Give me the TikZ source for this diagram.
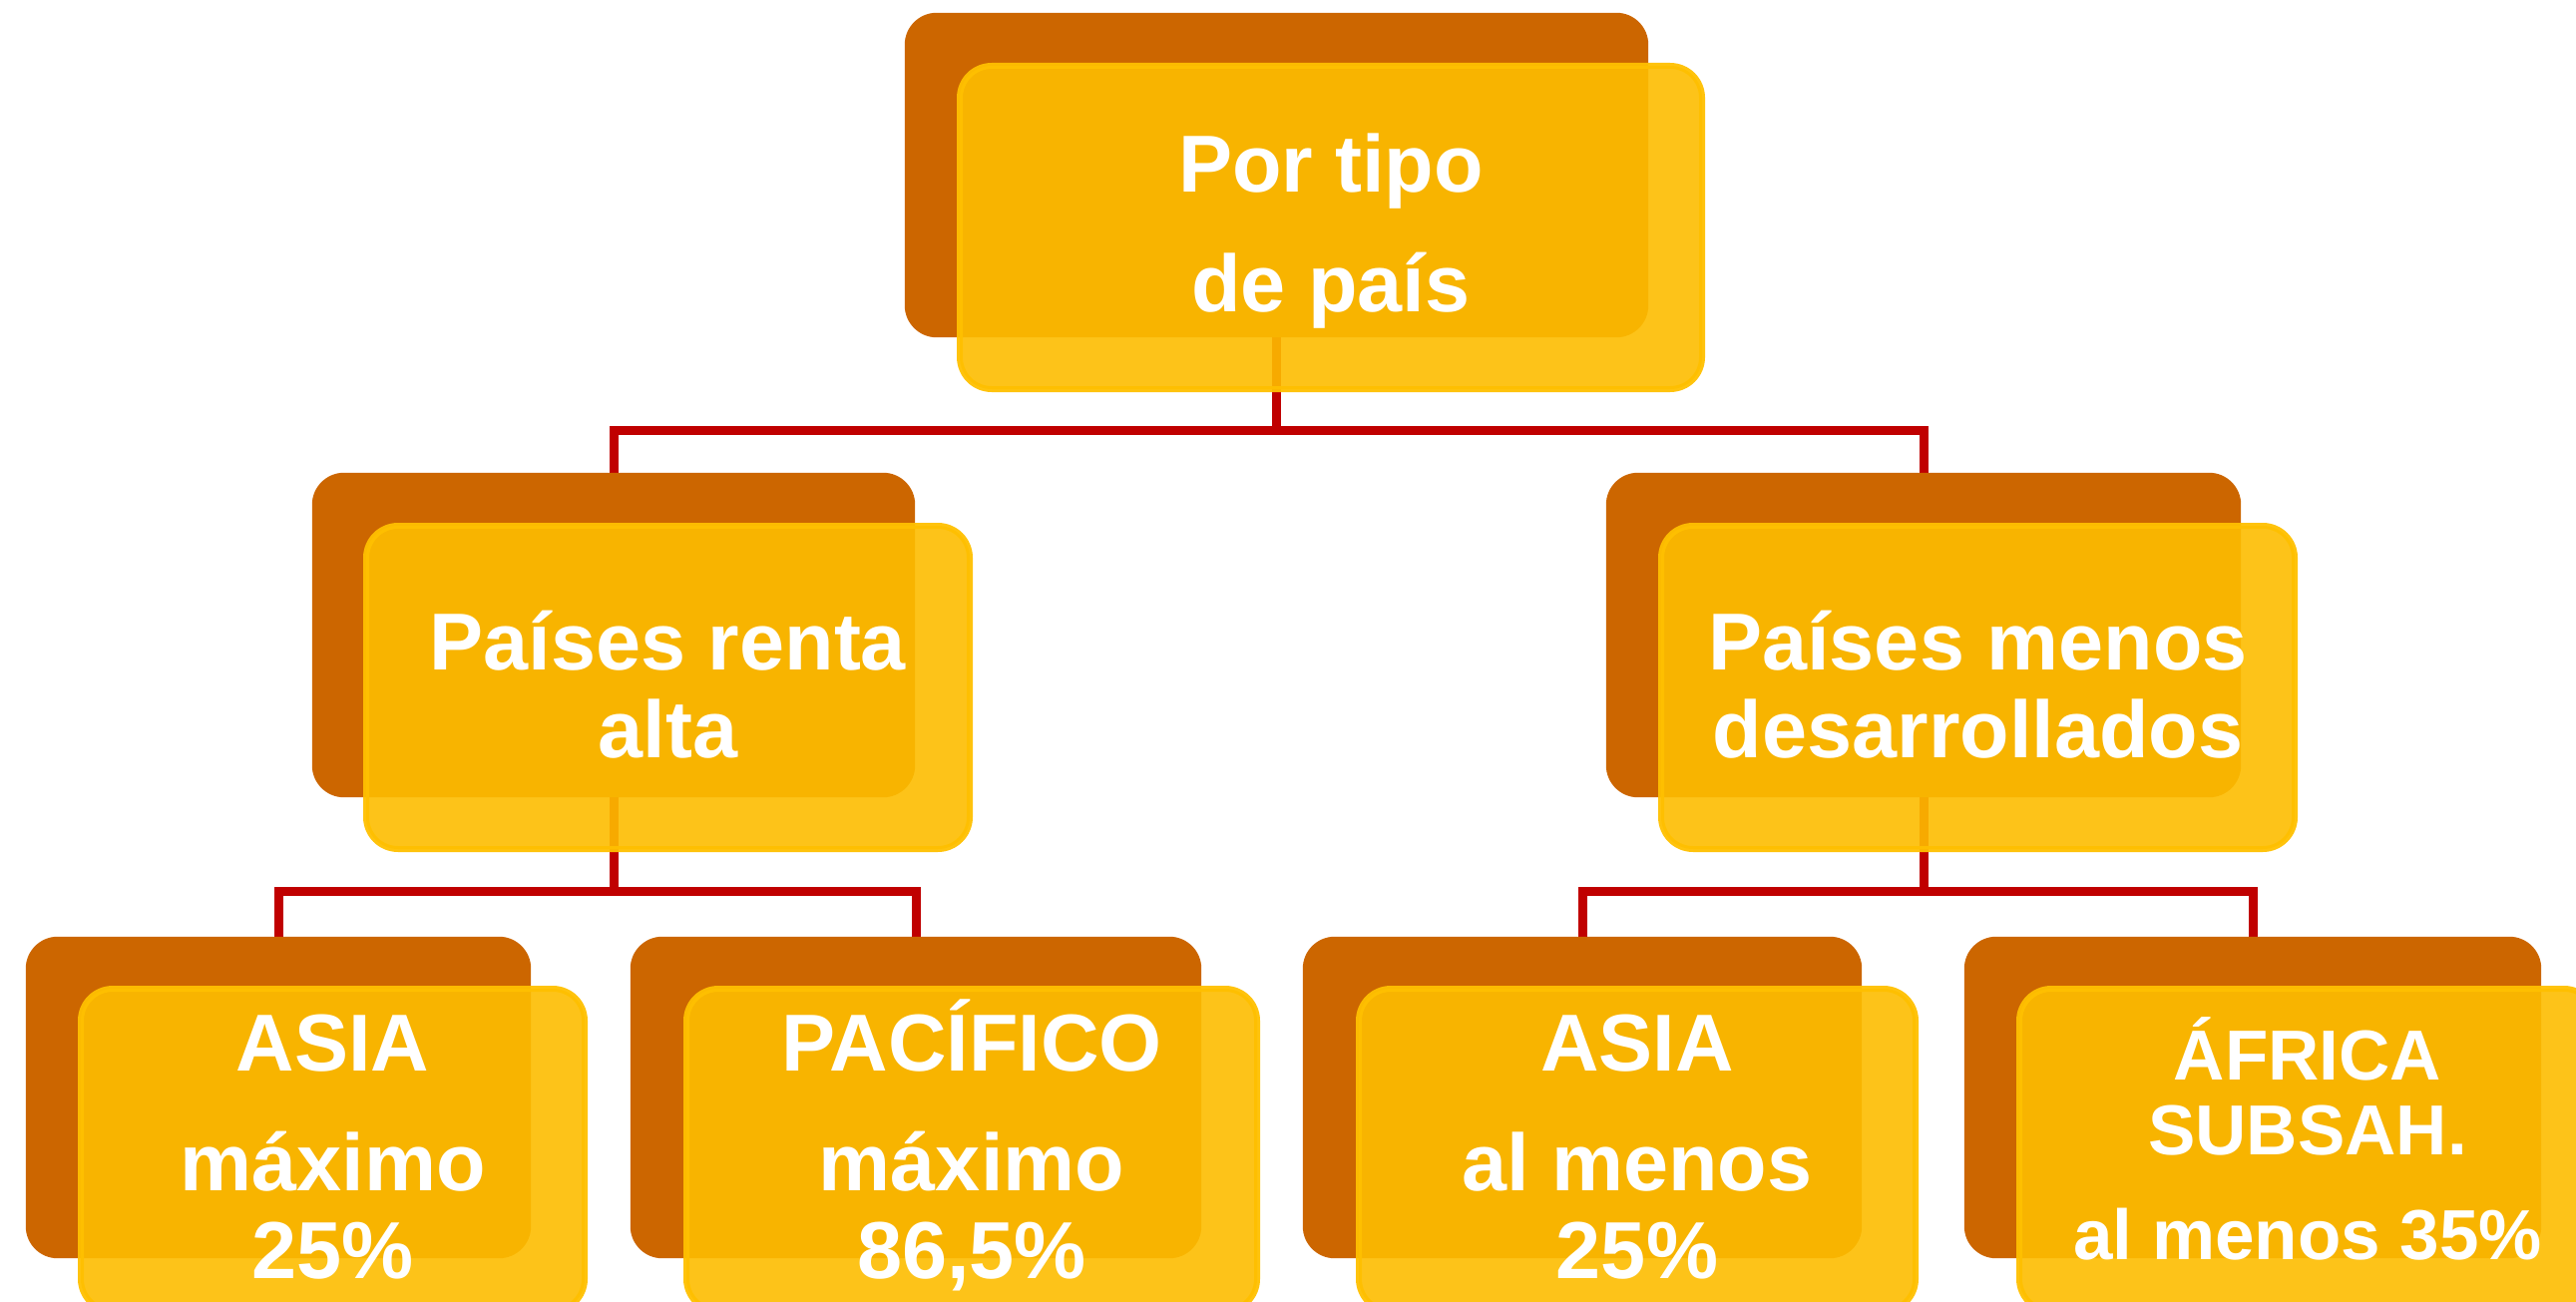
\documentclass[tikz,border=0pt]{standalone}
\usepackage{fontspec}
\setmainfont{Liberation Sans}
\definecolor{backc}{HTML}{CC6600}
\definecolor{frontc}{HTML}{FDBD00}
\definecolor{borderc}{HTML}{FFC000}
\definecolor{connc}{HTML}{C00000}
\begin{document}
\begin{tikzpicture}[x=1pt,y=-1pt,
  backbox/.style={fill=backc, rounded corners=32pt, inner sep=0pt, minimum height=325pt},
  frontbox/.style={fill=frontc, fill opacity=0.9, draw=borderc, draw opacity=0.95, line width=6pt, rounded corners=32pt, inner sep=0pt, minimum height=324pt},
  conn/.style={draw=connc, line width=9pt},
  lbl/.style={text=white, font=\bfseries\fontsize{81}{97}\selectfont, anchor=base, inner sep=0pt},
  lbls/.style={text=white, font=\bfseries\fontsize{71}{85}\selectfont, anchor=base, inner sep=0pt}]
\useasboundingbox (0,0) rectangle (2582,1305);

% junction coordinates
\coordinate (j0) at (1279.5,431);
\coordinate (j1) at (615,893);
\coordinate (j2) at (1928,893);

% back boxes (positions only, filled after the connectors)
\path (1279.5,175.5) node[minimum width=745pt, minimum height=325pt, inner sep=0pt] (b0) {};
\path (615,636.5) node[minimum width=604pt, minimum height=325pt, inner sep=0pt] (b1) {};
\path (1928,636.5) node[minimum width=636pt, minimum height=325pt, inner sep=0pt] (b2) {};
\path (279,1100) node[minimum width=506pt, minimum height=322pt, inner sep=0pt] (b3) {};
\path (918,1100) node[minimum width=572pt, minimum height=322pt, inner sep=0pt] (b4) {};
\path (1586,1100) node[minimum width=560pt, minimum height=322pt, inner sep=0pt] (b5) {};
\path (2258,1100) node[minimum width=578pt, minimum height=322pt, inner sep=0pt] (b6) {};

% connectors
\draw[conn] (b0.center) -- (j0);
\draw[conn] (b1.north) |- (j0) -| (b2.north);
\draw[conn] (b1.center) -- (j1);
\draw[conn] (b3.north) |- (j1) -| (b4.north);
\draw[conn] (b2.center) -- (j2);
\draw[conn] (b5.north) |- (j2) -| (b6.north);

% back boxes over connectors
\foreach \b in {b0,b1,b2,b3,b4,b5,b6}{
  \fill[backc, rounded corners=32pt] (\b.north west) rectangle (\b.south east);
}

% front boxes
\node[frontbox, minimum width=744pt] (f0) at (1334,228) {};
\node[frontbox, minimum width=605pt] (f1) at (669.5,689) {};
\node[frontbox, minimum width=635pt] (f2) at (1982.5,689) {};
\node[frontbox, minimum width=505pt, minimum height=323pt] (f3) at (333.5,1152.5) {};
\node[frontbox, minimum width=572pt, minimum height=323pt] (f4) at (974,1152.5) {};
\node[frontbox, minimum width=558pt, minimum height=323pt] (f5) at (1641,1152.5) {};
\node[frontbox, minimum width=578pt, minimum height=323pt] (f6) at (2313,1152.5) {};

% texts
\node[lbl] (t0a) at (1334,193) {Por tipo};
\node[lbl] (t0b) at (1334,313) {de país};
\node[lbl] (t1a) at (669.5,671) {Países renta};
\node[lbl] (t1b) at (669.5,759) {alta};
\node[lbl] (t2a) at (1982.5,671) {Países menos};
\node[lbl] (t2b) at (1982.5,759) {desarrollados};
\node[lbl] (t3a) at (333.5,1073) {ASIA};
\node[lbl] (t3b) at (333.5,1193) {máximo};
\node[lbl] (t3c) at (333.5,1281) {25\%};
\node[lbl] (t4a) at (974,1073) {PACÍFICO};
\node[lbl] (t4b) at (974,1193) {máximo};
\node[lbl] (t4c) at (974,1281) {86,5\%};
\node[lbl] (t5a) at (1641,1073) {ASIA};
\node[lbl] (t5b) at (1641,1193) {al menos};
\node[lbl] (t5c) at (1641,1281) {25\%};
\node[lbls] (t6a) at (2313,1082) {ÁFRICA};
\node[lbls] (t6b) at (2313,1157) {SUBSAH.};
\node[lbls] (t6c) at (2313,1262) {al menos 35\%};
\end{tikzpicture}
\end{document}
